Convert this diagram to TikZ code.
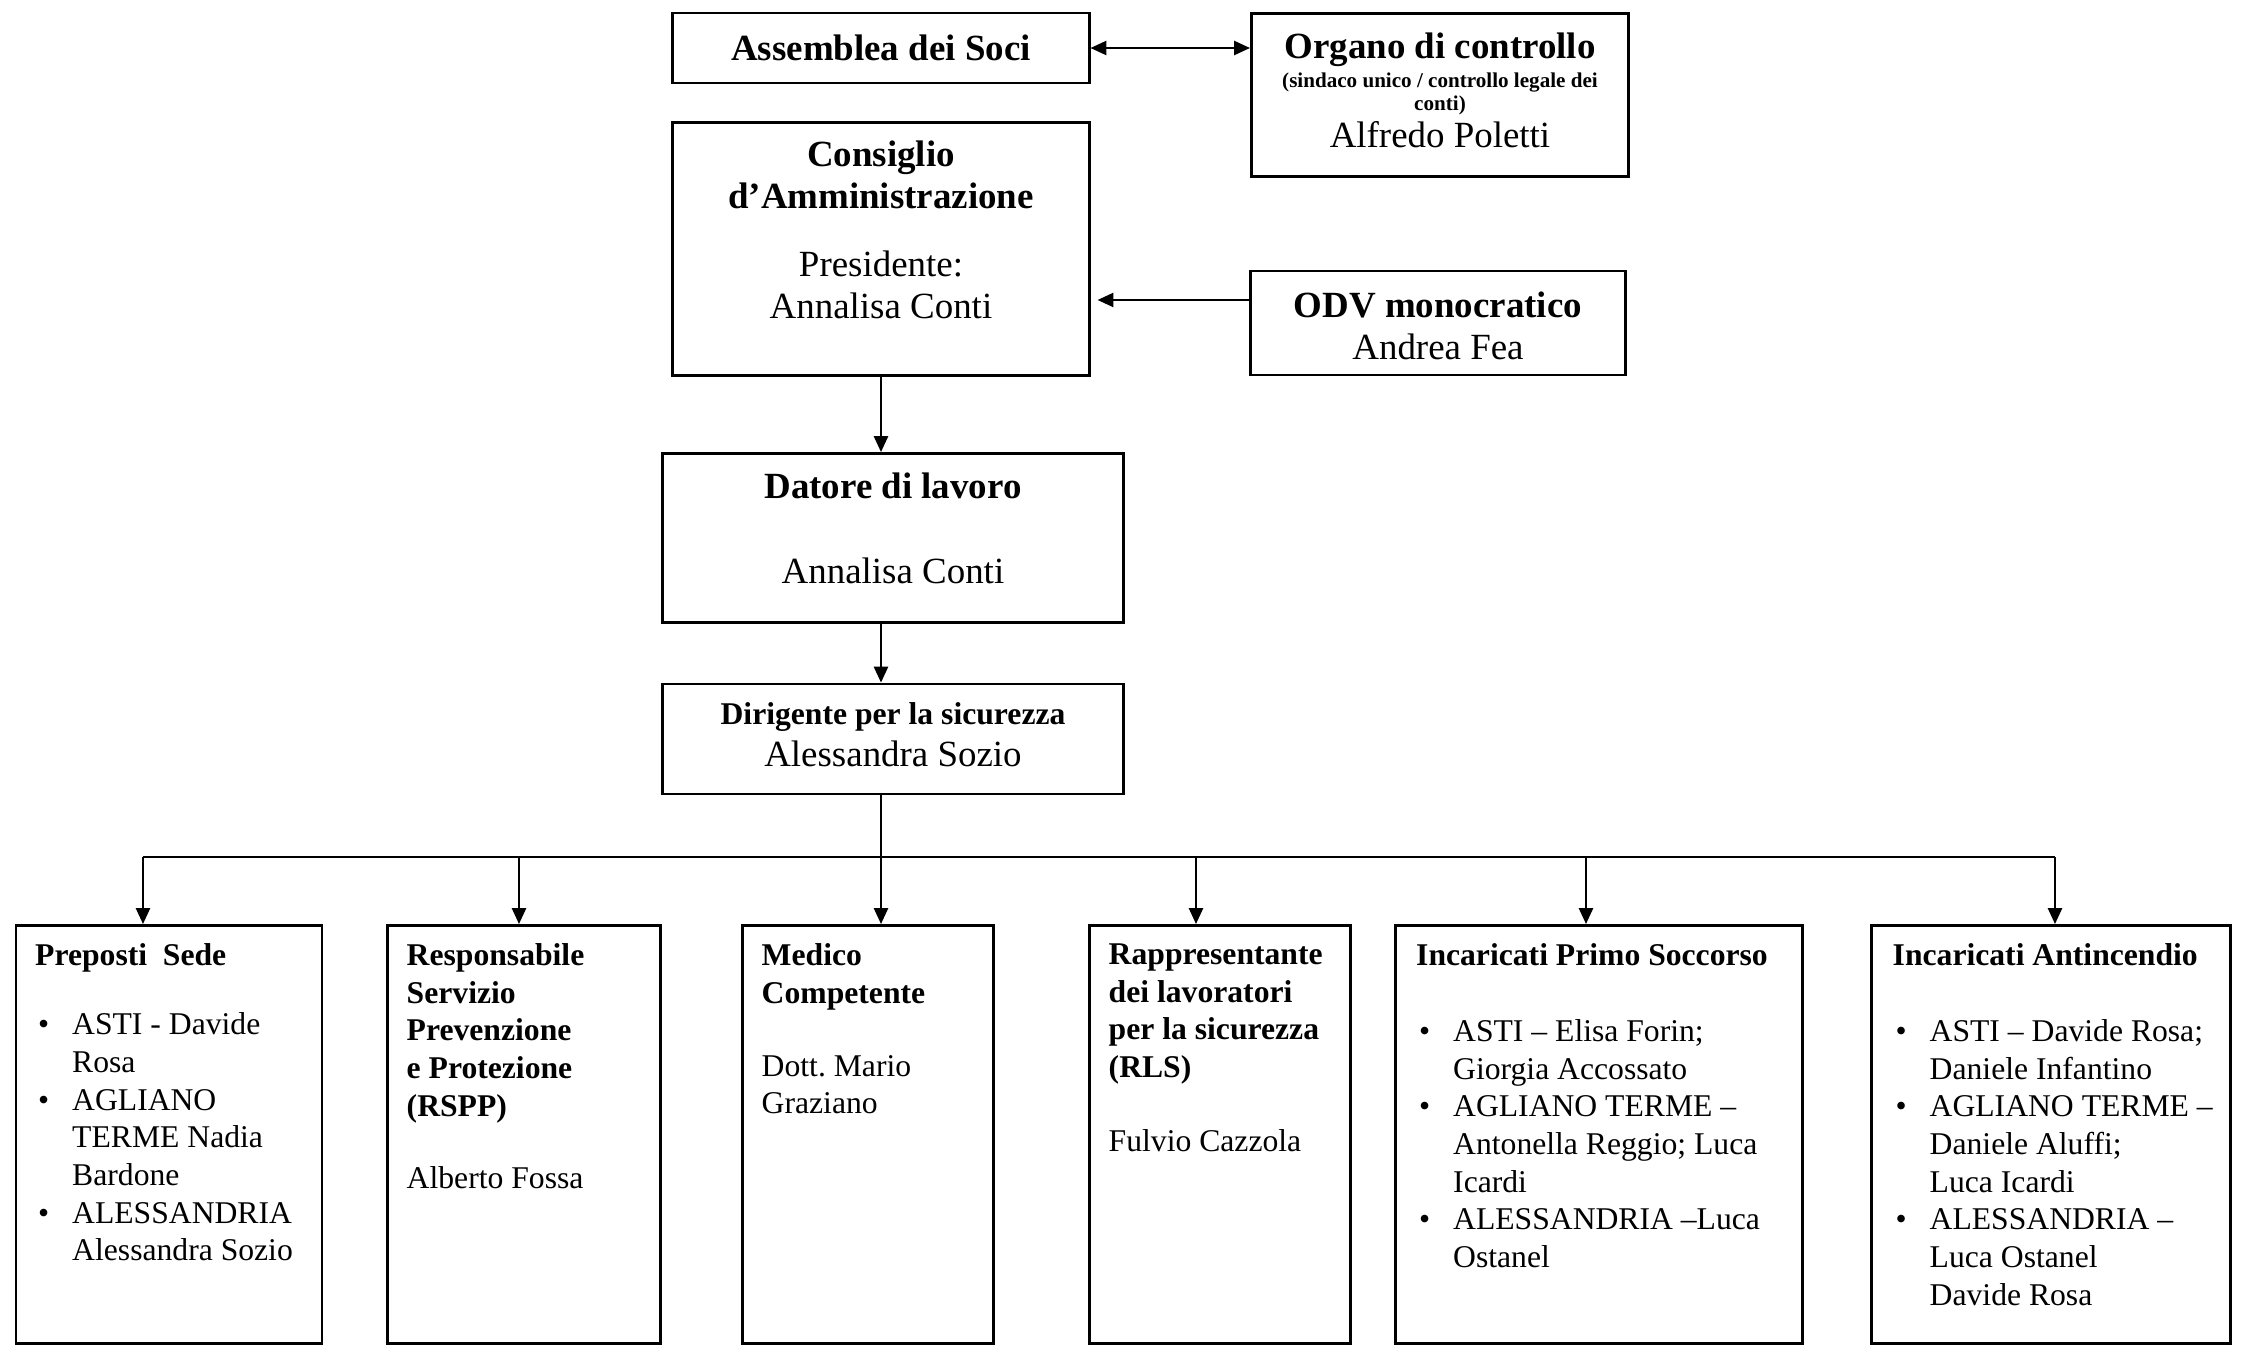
\documentclass[tikz,border=0pt]{standalone}
\usepackage{fontspec}
\setmainfont{Liberation Serif}
\usetikzlibrary{positioning,arrows.meta}
\newcommand\bul{\hspace*{0.03cm}\makebox[0.34cm][l]{\textbullet}}
\newcommand\ind{\hspace*{0.37cm}}
\newcommand\smb{\fontsize{6}{7}\selectfont\bfseries}
\tikzset{
  box/.style={draw, line width=0.8pt, inner sep=0pt},
  topbox/.style={box, align=center, font=\fontsize{10.5}{12.1}\selectfont},
  toptxt/.style={align=center, inner sep=0pt, font=\fontsize{10.5}{12.1}\selectfont},
  colbox/.style={box, anchor=north, minimum height=4.18cm},
  coltxt/.style={align=left, inner sep=0pt, font=\fontsize{9}{10.7}\selectfont},
  link/.style={line width=0.6pt},
}
\begin{document}
\begin{tikzpicture}[x=0.01cm, y=0.01cm, >={Triangle[length=4.5pt,width=4pt]}]
\useasboundingbox (0,0) rectangle (2247,-1348);
% upper part
\node[topbox, minimum width=4.16cm, minimum height=0.70cm] (ass) at (881,-48) {\textbf{Assemblea dei Soci}};
\node[box, minimum width=3.77cm, minimum height=1.63cm] (org) at (1440,-95) {};
\node[toptxt] (org-t) at ([yshift=0.045cm]org.center)
  {\textbf{Organo di controllo}\\[-3.9pt]{\smb (sindaco unico / controllo legale dei}\\[-5.6pt]{\smb conti)}\\[-1.6pt]Alfredo Poletti};
\node[box, minimum width=4.16cm, minimum height=2.53cm] (cons) at (881,-249) {};
\node[toptxt, below=0.19cm of cons.north] (cons-t)
  {\textbf{Consiglio}\\\textbf{d’Amministrazione}\\[7pt]Presidente:\\Annalisa Conti};
\node[box, minimum width=3.74cm, minimum height=1.04cm] (odv) at (1438,-323) {};
\node[toptxt] (odv-t) at ([yshift=-0.03cm]odv.center) {\textbf{ODV monocratico}\\Andrea Fea};
\node[box, minimum width=4.61cm, minimum height=1.69cm] (dat) at (893,-538) {};
\node[toptxt, below=0.20cm of dat.north] (dat-t) {\textbf{Datore di lavoro}\\[12.1pt]Annalisa Conti};
\node[box, minimum width=4.61cm, minimum height=1.10cm] (dir) at (893,-739) {};
\node[toptxt] (dir-t) at ([yshift=0.045cm]dir.center)
  {{\fontsize{9}{10.7}\selectfont\bfseries Dirigente per la sicurezza}\\Alessandra Sozio};

\draw[link,<->] (ass.east) -- (ass.east -| org.west);
\coordinate (odv-in) at ([yshift=0.23cm]odv.west);
\draw[link,->,shorten >=2pt] (odv-in) -- (odv-in -| cons.east);
\draw[link,->] (cons.south) -- (cons.south |- dat.north);
\draw[link,->] (cons.south |- dat.south) -- (cons.south |- dir.north);

% lower boxes
\node[colbox, minimum width=3.06cm] (pre) at (169,-924) {};
\node[colbox, minimum width=2.73cm] (rspp) at (524,-924) {};
\node[colbox, minimum width=2.51cm] (med) at (868,-924) {};
\node[colbox, minimum width=2.61cm] (rls) at (1220,-924) {};
\node[colbox, minimum width=4.06cm] (ps) at (1599,-924) {};
\node[colbox, minimum width=3.59cm] (ai) at (2051,-924) {};

\node[coltxt, below right=0.19cm and 0.2cm of pre.north west] (pre-t)
  {\textbf{Preposti\ \ Sede}\\[9pt]
   \bul ASTI - Davide\\\ind Rosa\\
   \bul AGLIANO\\\ind TERME Nadia\\\ind Bardone\\
   \bul ALESSANDRIA\\\ind Alessandra Sozio};
\node[coltxt, below right=0.19cm and 0.2cm of rspp.north west] (rspp-t)
  {\textbf{Responsabile}\\\textbf{Servizio}\\\textbf{Prevenzione}\\\textbf{e Protezione}\\\textbf{(RSPP)}\\[10pt]
   Alberto Fossa};
\node[coltxt, below right=0.19cm and 0.2cm of med.north west] (med-t)
  {\textbf{Medico}\\\textbf{Competente}\\[10pt]Dott.\ Mario\\Graziano};
\node[coltxt, below right=0.19cm and 0.2cm of rls.north west] (rls-t)
  {\textbf{Rappresentante}\\\textbf{dei lavoratori}\\\textbf{per la sicurezza}\\\textbf{(RLS)}\\[10.4pt]
   Fulvio Cazzola};
\node[coltxt, below right=0.19cm and 0.21cm of ps.north west] (ps-t)
  {\textbf{Incaricati Primo Soccorso}\\[10.9pt]
   \bul ASTI – Elisa Forin;\\\ind Giorgia Accossato\\
   \bul AGLIANO TERME –\\\ind Antonella Reggio; Luca\\\ind Icardi\\
   \bul ALESSANDRIA –Luca\\\ind Ostanel};
\node[coltxt, below right=0.19cm and 0.22cm of ai.north west] (ai-t)
  {\textbf{Incaricati Antincendio}\\[10.9pt]
   \bul ASTI – Davide Rosa;\\\ind Daniele Infantino\\
   \bul AGLIANO TERME –\\\ind Daniele Aluffi;\\\ind Luca Icardi\\
   \bul ALESSANDRIA –\\\ind Luca Ostanel\\\ind Davide Rosa};

% distribution line
\coordinate (b-pre) at (143,-857);
\coordinate (b-rspp) at (519,-857);
\coordinate (b-rls) at (1196,-857);
\coordinate (b-ps) at (1586,-857);
\coordinate (b-ai) at (2055,-857);
\draw[link] (b-pre) -- (b-ai);
\draw[link,->] (cons.south |- dir.south) -- (cons.south |- med.north);
\foreach \n in {pre,rspp,rls,ps,ai}
  \draw[link,->] (b-\n) -- (b-\n |- \n.north);
\end{tikzpicture}
\end{document}
